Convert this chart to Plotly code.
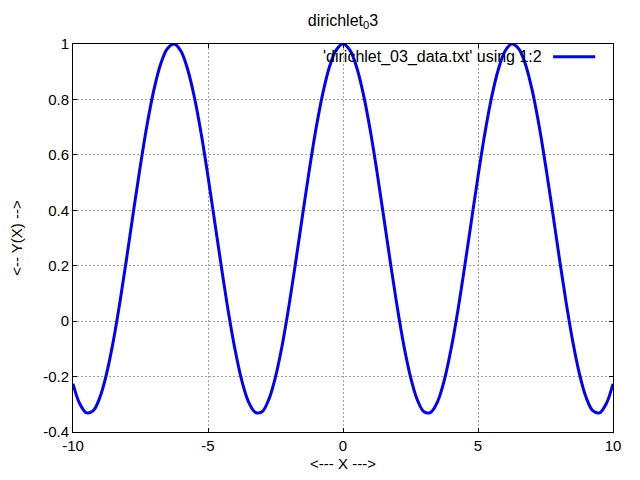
import plotly.graph_objects as go

# Values (x step 0.25)
x_pos = [0.0, 0.25, 0.5, 0.75, 1.0, 1.25, 1.5, 1.75, 2.0, 2.25, 2.5, 2.75, 3.0, 3.25, 3.5, 3.75,
         4.0, 4.25, 4.5, 4.75, 5.0, 5.25, 5.5, 5.75, 6.0, 6.25, 6.5, 6.75, 7.0, 7.25, 7.5, 7.75,
         8.0, 8.25, 8.5, 8.75, 9.0, 9.25, 9.5, 9.75, 10.0]
y_pos = [1.0, 0.979, 0.918, 0.821, 0.694, 0.544, 0.381, 0.215, 0.056, -0.086, -0.201, -0.283,
         -0.327, -0.329, -0.291, -0.214, -0.102, 0.036, 0.193, 0.358, 0.522, 0.675, 0.806,
         0.907, 0.974, 1.0, 0.984, 0.929, 0.836, 0.712, 0.564, 0.403, 0.236, 0.076, -0.068,
         -0.187, -0.274, -0.323, -0.331, -0.298, -0.226]
x_vals = [-v for v in reversed(x_pos[1:])] + x_pos
y_vals = list(reversed(y_pos[1:])) + y_pos

x_ticks = [-10, -5, 0, 5, 10]
x_tick_text = ["-10", "-5", "0", "5", "10"]
y_ticks = [-0.4, -0.2, 0, 0.2, 0.4, 0.6, 0.8, 1]
y_tick_text = ["-0.4", "-0.2", "0", "0.2", "0.4", "0.6", "0.8", "1"]

title_text = "dirichlet<sub>0</sub>3"
legend_text = "'dirichlet_03_data.txt' using 1:2"

FS = 15
# page body has an 8px margin, so the figure is sized to fit inside it
W, H = 624, 464

fig = go.Figure()
fig.add_trace(go.Scatter(x=x_vals, y=y_vals, mode="lines", line=dict(color="#0000ff", width=3, shape="spline"),
                         showlegend=False))

axis_common = dict(showline=True, linecolor="black", linewidth=1, mirror="ticks", ticks="inside",
                   ticklen=4, tickcolor="black", showgrid=True, gridcolor="#a0a0a0", griddash="2px,2px",
                   gridwidth=1, zeroline=False, automargin=False, tickfont=dict(size=FS, color="black"))

fig.update_xaxes(range=[-10, 10], tickvals=x_ticks, ticktext=x_tick_text,
                 title=dict(text="<--- X --->", font=dict(size=FS, color="black"), standoff=8), **axis_common)
fig.update_yaxes(range=[-0.4, 1], tickvals=y_ticks, ticktext=y_tick_text,
                 title=dict(text="<-- Y(X) -->", font=dict(size=FS, color="black"), standoff=20), **axis_common)

fig.add_annotation(xref="paper", yref="paper", x=0.872, y=0.967, xanchor="right", yanchor="middle",
                   text=legend_text, showarrow=False, font=dict(size=16, color="black"))
fig.add_shape(type="line", xref="paper", yref="paper", x0=0.889, x1=0.967, y0=0.967, y1=0.967,
              line=dict(color="#0000ff", width=3))

fig.update_layout(
    width=W, height=H,
    margin=dict(l=65, r=19, t=36, b=40),
    paper_bgcolor="white", plot_bgcolor="white",
    font=dict(family="Liberation Sans, Arial, sans-serif", size=FS, color="black"),
    title=dict(text=title_text, x=(343 - 8) / W, xanchor="center", y=1 - 12 / H, yanchor="middle",
               font=dict(size=16, color="black")),
)

fig.write_html("out.html")
